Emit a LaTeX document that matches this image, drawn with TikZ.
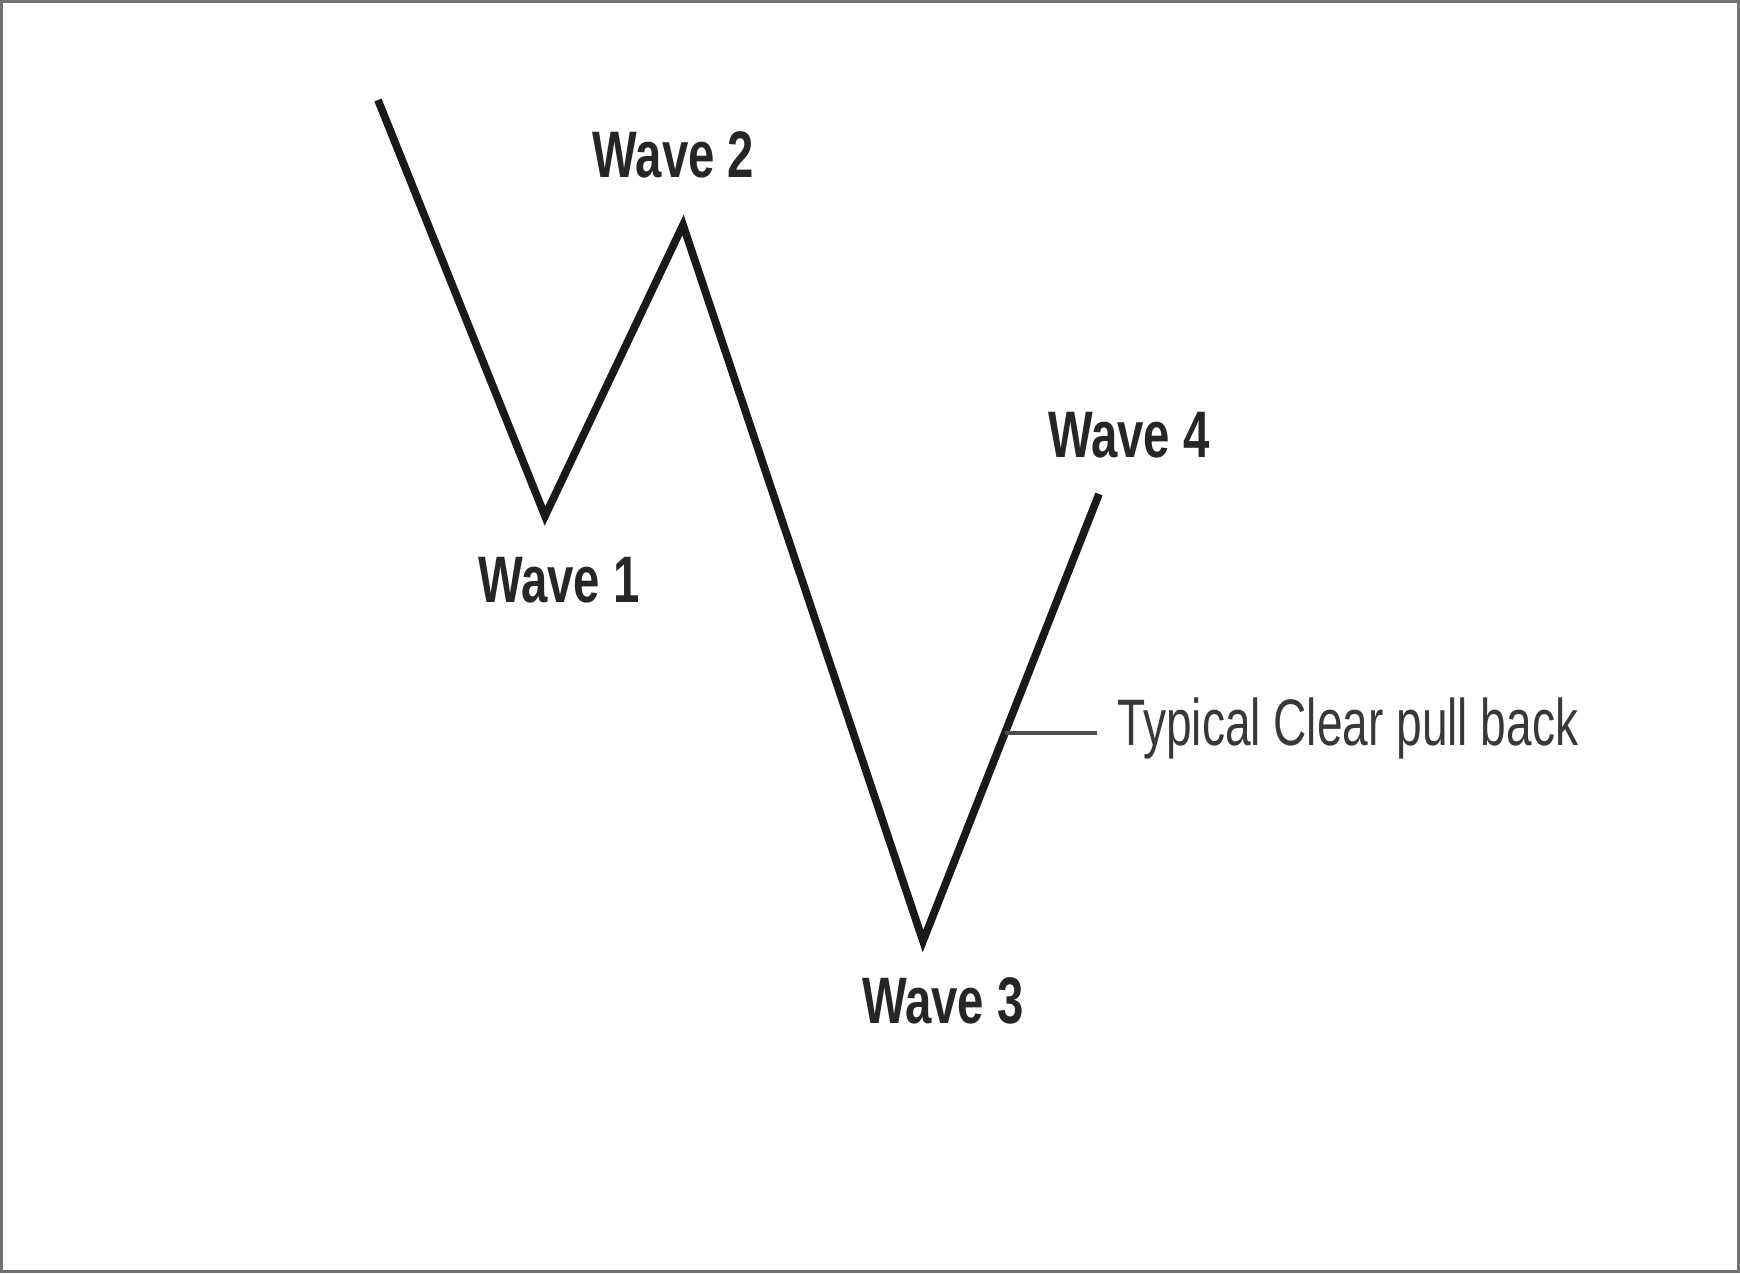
\documentclass[tikz,border=0pt]{standalone}
\usepackage{fontspec}
\usetikzlibrary{calc}
\setmainfont{Liberation Sans}
\newfontfamily\wavebold[FakeStretch=0.72]{Liberation Sans Bold}
\newfontfamily\noteregular[FakeStretch=0.70]{Liberation Sans}
\begin{document}
\begin{tikzpicture}[x=0.01cm,y=-0.01cm,
  wavelabel/.style={inner sep=0pt,anchor=base,text=black!85,font=\wavebold\fontsize{18.7}{20}\selectfont},
  notelabel/.style={inner sep=0pt,anchor=base west,text=black!78,font=\noteregular\fontsize{18.7}{20}\selectfont},
  waveline/.style={line width=2.2pt,draw=black!90,line join=miter,miter limit=20},
  pointer/.style={line width=1pt,draw=black!70}]
\useasboundingbox (0,0) rectangle (1740,1273);
\fill[white] (0,0) rectangle (1740,1273);
\draw[line width=0.9pt,draw=black!55] (1.5,1.5) rectangle (1738.5,1271.5);
% wave points
\coordinate (s) at (378,100);
\coordinate (w1) at (545,516);
\coordinate (w2) at (683,225);
\coordinate (w3) at (923,941);
\coordinate (w4) at (1099,494);
\draw[waveline] (s) -- (w1) -- (w2) -- (w3) -- (w4);
% labels
\node[wavelabel] (l2) at (673.5,177) {Wave 2};
\node[wavelabel] (l1) at (559,602) {Wave 1};
\node[wavelabel] (l4) at (1129,457) {Wave 4};
\node[wavelabel] (l3) at (943,1023) {Wave 3};
\node[notelabel] (note) at (1117,745) {Typical Clear pull back};
\coordinate (pb) at ($(w3)!0.4653!(w4)$);
\coordinate (pbend) at (1097,733);
\draw[pointer] (pb) -- (pb -| pbend);
\end{tikzpicture}
\end{document}
